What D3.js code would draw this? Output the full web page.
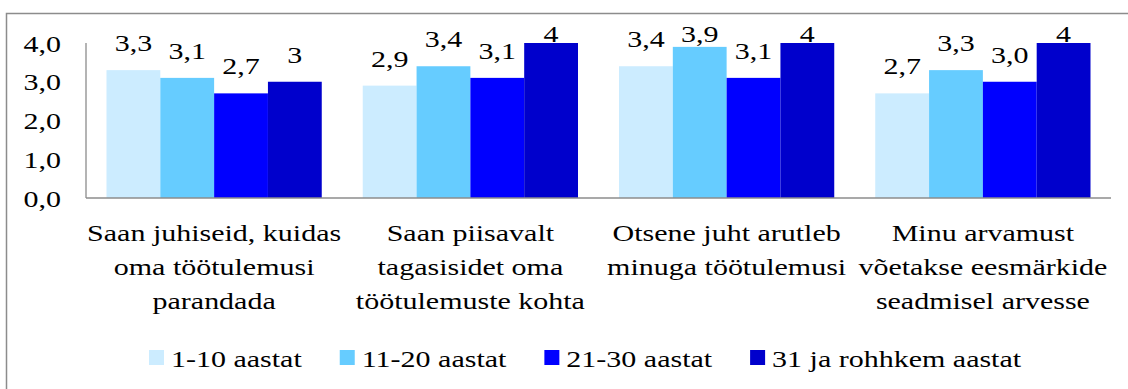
<!DOCTYPE html>
<html>
<head>
<meta charset="utf-8">
<script src="https://cdn.jsdelivr.net/npm/d3@7"></script>
<style>
  html, body { margin: 0; padding: 0; background: #fff; }
  svg { display: block; }
</style>
</head>
<body>
<svg id="chart" width="1128" height="389"></svg>
<script>
// Statement groups (each entry is a list of wrapped lines)
const categories = [
  ["Saan juhiseid, kuidas", "oma töötulemusi", "parandada"],
  ["Saan piisavalt", "tagasisidet oma", "töötulemuste kohta"],
  ["Otsene juht arutleb", "minuga töötulemusi"],
  ["Minu arvamust", "võetakse eesmärkide", "seadmisel arvesse"]
];

const seriesNames = ["1-10 aastat", "11-20 aastat", "21-30 aastat", "31 ja rohhkem aastat"];
const seriesColors = ["#CCECFF", "#66CCFF", "#0000FF", "#0000CC"];

// Mean scores per work-experience group
const values1 = [3.3, 2.9, 3.4, 2.7];
const values2 = [3.1, 3.4, 3.9, 3.3];
const values3 = [2.7, 3.1, 3.1, 3.0];
const values4 = [3.0, 4.0, 4.0, 4.0];

// Data labels as printed above the bars
const labels1 = ["3,3", "2,9", "3,4", "2,7"];
const labels2 = ["3,1", "3,4", "3,9", "3,3"];
const labels3 = ["2,7", "3,1", "3,1", "3,0"];
const labels4 = ["3", "4", "4", "4"];

const yTicks = [0, 1, 2, 3, 4];
const yTickLabels = ["0,0", "1,0", "2,0", "3,0", "4,0"];

const seriesValues = [values1, values2, values3, values4];
const seriesLabels = [labels1, labels2, labels3, labels4];

const svg = d3.select("#chart");
const SX = 1.25;          // horizontal text stretch
const FS = 24;            // font size
const FONT = "\"Liberation Serif\", \"Times New Roman\", serif";

function stretchedText(sel, x, y, str, anchor) {
  return sel.append("text")
    .attr("transform", `translate(${x},${y}) scale(${SX},1)`)
    .attr("text-anchor", anchor || "middle")
    .style("font-family", FONT)
    .style("font-size", FS + "px")
    .attr("fill", "#000")
    .text(str);
}

// Outer frame
svg.append("rect")
  .attr("x", 6.5).attr("y", 13.5)
  .attr("width", 1140).attr("height", 400)
  .attr("fill", "none")
  .attr("stroke", "#8c8c8c")
  .attr("stroke-width", 1.5);

const plot = { left: 86, right: 1111, top: 43, bottom: 198 };

const x0 = d3.scaleBand()
  .domain(d3.range(categories.length))
  .range([plot.left, plot.right])
  .paddingInner(0.16)
  .paddingOuter(0.08);

const x1 = d3.scaleBand()
  .domain(d3.range(seriesNames.length))
  .range([0, x0.bandwidth()]);

const y = d3.scaleLinear().domain([0, 4]).range([plot.bottom, plot.top]);

// Bars
seriesValues.forEach((vals, si) => {
  svg.append("g").selectAll("rect")
    .data(vals)
    .join("rect")
    .attr("x", (d, i) => x0(i) + x1(si))
    .attr("y", d => y(d))
    .attr("width", x1.bandwidth())
    .attr("height", d => y(0) - y(d))
    .attr("fill", seriesColors[si]);
});

// Value labels
const labelLayer = svg.append("g");
seriesValues.forEach((vals, si) => {
  vals.forEach((v, i) => {
    const cx = x0(i) + x1(si) + x1.bandwidth() / 2;
    const by = Math.max(y(v) - 19, 41.5);
    stretchedText(labelLayer, cx, by, seriesLabels[si][i]);
  });
});

// Axes lines
svg.append("line")
  .attr("x1", plot.left).attr("x2", plot.left)
  .attr("y1", plot.top).attr("y2", plot.bottom)
  .attr("stroke", "#8c8c8c").attr("stroke-width", 1.3);
svg.append("line")
  .attr("x1", plot.left).attr("x2", plot.right)
  .attr("y1", plot.bottom).attr("y2", plot.bottom)
  .attr("stroke", "#8c8c8c").attr("stroke-width", 1.3);

// Y tick labels
const yLayer = svg.append("g");
yTicks.forEach((t, i) => {
  stretchedText(yLayer, 61, y(t) + 8.5, yTickLabels[i], "end");
});

// Category labels
const catLayer = svg.append("g");
categories.forEach((lines, i) => {
  const cx = x0(i) + x0.bandwidth() / 2;
  lines.forEach((ln, li) => {
    stretchedText(catLayer, cx, 241 + li * 34, ln);
  });
});

// Legend
const legend = svg.append("g");
let lx = 149;
seriesNames.forEach((name, si) => {
  legend.append("rect")
    .attr("x", lx).attr("y", 350)
    .attr("width", 15).attr("height", 15)
    .attr("fill", seriesColors[si]);
  const t = stretchedText(legend, lx + 22, 366.5, name, "start");
  const w = t.node().getComputedTextLength() * SX;
  lx += 22 + w + 38;
});
</script>
</body>
</html>
